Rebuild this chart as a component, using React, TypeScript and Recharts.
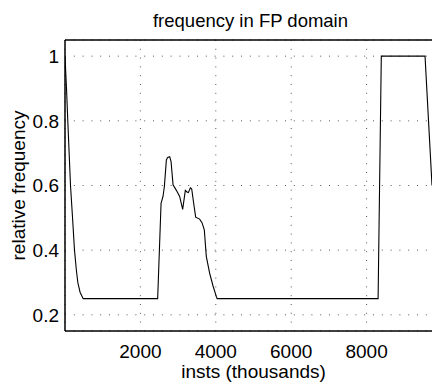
import React from 'react';
import { LineChart, Line, XAxis, YAxis, CartesianGrid, Label } from 'recharts';

const insts = [
  0, 40, 74, 110, 146, 200, 252, 300, 340, 400, 482,
  2458, 2548, 2600, 2636, 2689, 2724, 2777, 2813, 2866, 2954, 3041, 3121, 3192, 3236, 3272, 3325, 3360,
  3413, 3466, 3571, 3634, 3695, 3748, 3836, 3925, 4013, 4035,
  8305, 8390, 9550, 9735,
];
const freq = [
  1.0, 0.9, 0.8, 0.7, 0.6, 0.5, 0.4, 0.34, 0.3, 0.27, 0.25,
  0.25, 0.545, 0.566, 0.597, 0.679, 0.687, 0.689, 0.674, 0.602, 0.585, 0.566, 0.526, 0.585, 0.58, 0.578, 0.593, 0.59,
  0.545, 0.502, 0.496, 0.485, 0.463, 0.381, 0.329, 0.29, 0.257, 0.25,
  0.25, 1.0, 1.0, 0.6,
];
const xTicks = [2000, 4000, 6000, 8000];
const yTicks = [0.2, 0.4, 0.6, 0.8, 1];

const data = insts.map((x, i) => ({ x, y: freq[i] }));

const FONT = '"Liberation Sans", Arial, Helvetica, sans-serif';
const tickStyle = { fontSize: 19, fill: '#000', fontFamily: FONT };

export default function App() {
  return (
    <div style={{ position: 'fixed', left: 0, top: 0, width: 432, height: 384, overflow: 'hidden', background: '#fff' }}>
      <LineChart width={450} height={384} data={data} margin={{ top: 39, right: 8, bottom: 23, left: 0 }}>
        <CartesianGrid stroke="#555" strokeDasharray="1 7.8" strokeWidth={1} />
        <XAxis
          dataKey="x"
          type="number"
          domain={[0, 10000]}
          ticks={xTicks}
          tickLine={false}
          tickMargin={8}
          height={30}
          axisLine={{ stroke: '#000', strokeWidth: 1.5 }}
          tick={tickStyle}
          allowDataOverflow
        >
          <Label value="insts (thousands)" position="bottom" offset={4} style={{ ...tickStyle, textAnchor: 'middle' }} />
        </XAxis>
        <XAxis
          xAxisId="top"
          dataKey="x"
          orientation="top"
          type="number"
          domain={[0, 10000]}
          ticks={xTicks}
          tick={false}
          tickLine={false}
          height={1}
          axisLine={{ stroke: '#000', strokeWidth: 1.5 }}
        >
          <Label value="frequency in FP domain" position="top" offset={12} dx={-3} style={{ ...tickStyle, fontSize: 18.5, textAnchor: 'middle' }} />
        </XAxis>
        <YAxis
          type="number"
          domain={[0.15, 1.05]}
          ticks={yTicks}
          tickLine={false}
          tickMargin={0}
          width={65}
          axisLine={{ stroke: '#000', strokeWidth: 1.5 }}
          tick={tickStyle}
          allowDataOverflow
        >
          <Label value="relative frequency" angle={-90} position="insideLeft" offset={18} style={{ ...tickStyle, textAnchor: 'middle' }} />
        </YAxis>
        <Line dataKey="y" stroke="#000" strokeWidth={1.1} dot={false} isAnimationActive={false} />
      </LineChart>
    </div>
  );
}
